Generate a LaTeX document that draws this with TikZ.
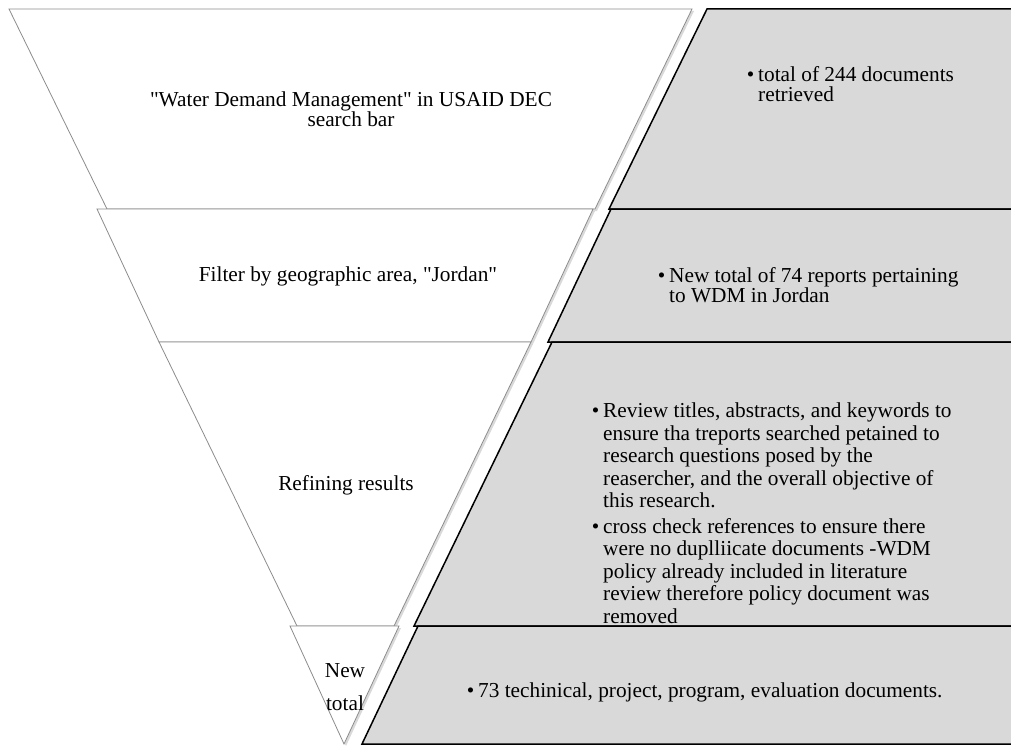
\documentclass[tikz,border=0pt]{standalone}
\usepackage{fontspec}
\setmainfont{Liberation Serif}[Ligatures=TeXOff]
\usetikzlibrary{shadows}

\begin{document}
\begin{tikzpicture}[x=1pt,y=-1pt]
\tikzset{band/.style = {draw=black!45,fill=white,line width=0.8pt,drop shadow={opacity=0.3,shadow xshift=2pt,shadow yshift=-2pt}}}
\tikzset{panel/.style = {draw=black,fill=black!15,line width=1.5pt}}
\tikzset{label/.style = {align=center,inner sep=0pt,font=\fontsize{21.3}{19}\selectfont}}
\tikzset{note/.style = {align=left,anchor=west,inner sep=0pt,font=\fontsize{21.3}{20.5}\selectfont}}
\useasboundingbox (0,0) rectangle (1011,746);
\clip (0,0) rectangle (1011,746);
% funnel

\path[band] (9,9) -- (692,9) -- (595,209) -- (107,209) -- cycle;
\path[band] (97,209) -- (593,209) -- (531,342) -- (159,342) -- cycle;
\path[band] (159,342) -- (531,342) -- (394,626) -- (297,626) -- cycle;
\path[band] (290,626) -- (399,626) -- (344,744) -- cycle;

% panels
\path[panel] (707,9) -- (1020,9) -- (1020,209) -- (609,209) -- cycle;
\path[panel] (611,209) -- (1020,209) -- (1020,342) -- (548,342) -- cycle;
\path[panel] (552,342) -- (1020,342) -- (1020,626) -- (414,626) -- cycle;
\path[panel] (418,626) -- (1020,626) -- (1020,744) -- (362,744) -- cycle;

% labels
\node[label] (search) at (351,109) {"Water Demand Management" in USAID DEC\\search bar};
\node[label] (filter) at (348,276) {Filter by geographic area, "Jordan"};
\node[label] (refine) at (346,485) {Refining results};
\node[label,font=\fontsize{21.3}{33}\selectfont] (newtotal) at (345,687) {New\\total};

% notes
\node[note] (retrieved) at (758,84) {\llap{\textbullet\hspace{4pt}}total of 244 documents\\retrieved};
\node[note] (jordan) at (669,285) {\llap{\textbullet\hspace{4pt}}New total of 74 reports pertaining\\to WDM in Jordan};
\node[note,font=\fontsize{21.3}{22.5}\selectfont] (review) at (603,513) {\llap{\textbullet\hspace{4pt}}Review titles, abstracts, and keywords to\\ensure tha treports searched petained to\\research questions posed by the\\reasercher, and the overall objective of\\this research.\\[3pt]
\llap{\textbullet\hspace{4pt}}cross check references to ensure there\\were no duplliicate documents -WDM\\policy already included in literature\\review therefore policy document was\\removed};
\node[note] (documents) at (478,692) {\llap{\textbullet\hspace{4pt}}73 techinical, project, program, evaluation documents.};

\end{tikzpicture}
\end{document}
